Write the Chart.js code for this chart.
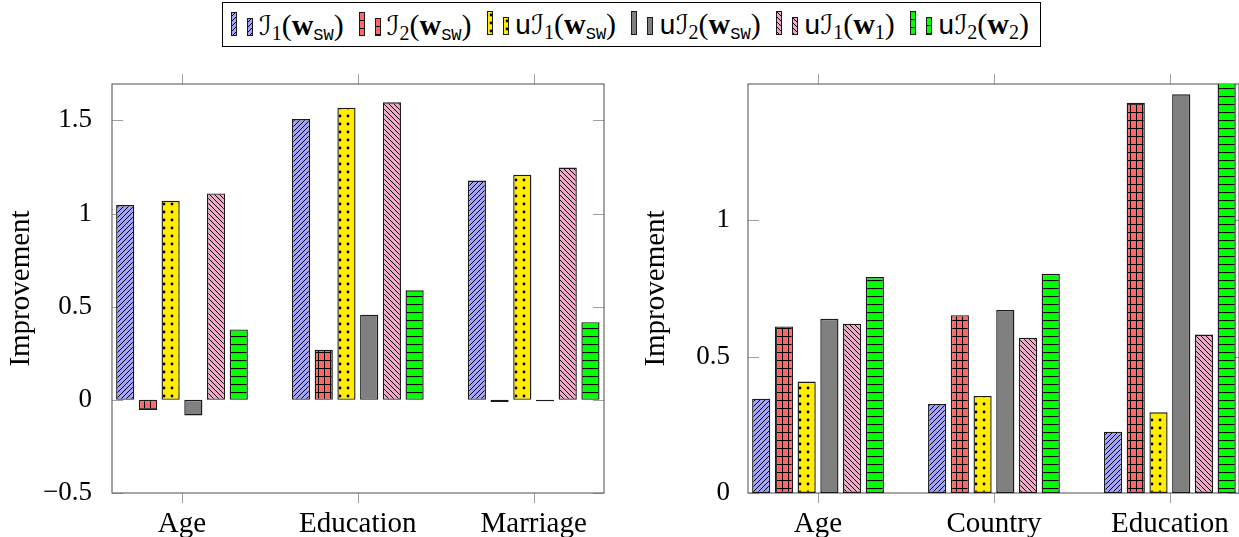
<!DOCTYPE html>
<html lang="en">
<head>
<meta charset="utf-8">
<script src="https://cdn.jsdelivr.net/npm/chart.js@4.4.0/dist/chart.umd.min.js"></script>
<style>
  body { margin: 0; background: #fff; }
  #wrap { position: relative; width: 1239px; height: 537px; overflow: hidden; font-family: "Liberation Serif", serif; }
  .panel { position: absolute; top: 0; height: 537px; }
  #left-panel { left: 0; width: 620px; }
  #right-panel { left: 620px; width: 619px; }
  /* legend box */
  #legend {
    position: absolute; left: 222px; top: 2px; width: 819px; height: 45px;
    box-sizing: border-box; border: 1px solid #000; background: #fff;
    display: flex; align-items: center; padding-left: 8px; white-space: nowrap;
    font-family: "Liberation Serif", serif; font-size: 30px; color: #000;
  }
  .item { display: flex; align-items: baseline; margin-right: 15px; }
  .sw { display: inline-flex; align-items: flex-end; gap: 10px; margin-right: 6px; position: relative; top: 1px; }
  .sw canvas { display: block; }
  .t { font-family: "Liberation Serif", serif; }
  .cal { font-family: "DejaVu Serif", "DejaVu Sans", serif; font-size: 27px; }
  .t b { font-family: "Liberation Serif", serif; }
  .t sub { font-size: 20px; vertical-align: -5px; line-height: 0; }
  .tt { font-family: "Liberation Mono", monospace; }
  .t sub.tt { font-size: 17px; }
  .u { font-family: "Liberation Mono", monospace; font-size: 28px; }
</style>
</head>
<body>
<div id="wrap">
  <div class="panel" id="left-panel"><canvas id="left-chart"></canvas></div>
  <div class="panel" id="right-panel"><canvas id="right-chart"></canvas></div>

  <!-- legend -->
  <div id="legend">
    <div class="item"><span class="sw" data-s="0"></span><span class="t"><span class="cal">ℐ</span><sub>1</sub>(<b>w</b><sub class="tt">SW</sub>)</span></div>
    <div class="item"><span class="sw" data-s="1"></span><span class="t"><span class="cal">ℐ</span><sub>2</sub>(<b>w</b><sub class="tt">SW</sub>)</span></div>
    <div class="item"><span class="sw" data-s="2"></span><span class="t"><span class="u">u</span><span class="cal">ℐ</span><sub>1</sub>(<b>w</b><sub class="tt">SW</sub>)</span></div>
    <div class="item"><span class="sw" data-s="3"></span><span class="t"><span class="u">u</span><span class="cal">ℐ</span><sub>2</sub>(<b>w</b><sub class="tt">SW</sub>)</span></div>
    <div class="item"><span class="sw" data-s="4"></span><span class="t"><span class="u">u</span><span class="cal">ℐ</span><sub>1</sub>(<b>w</b><sub>1</sub>)</span></div>
    <div class="item"><span class="sw" data-s="5"></span><span class="t"><span class="u">u</span><span class="cal">ℐ</span><sub>2</sub>(<b>w</b><sub>2</sub>)</span></div>
  </div>
</div>

<script>
  // categories
  const leftCategories = ['Age', 'Education', 'Marriage'];
  const rightCategories = ['Age', 'Country', 'Education'];

  // left panel values (series order: I1(wSW), I2(wSW), uI1(wSW), uI2(wSW), uI1(w1), uI2(w2))
  const leftI1 = [1.045, 1.507, 1.177];
  const leftI2 = [-0.054, 0.269, -0.012];
  const leftUI1 = [1.068, 1.568, 1.208];
  const leftUI2 = [-0.084, 0.457, -0.008];
  const leftUI1w1 = [1.108, 1.597, 1.247];
  const leftUI2w2 = [0.378, 0.588, 0.417];

  // right panel values
  const rightI1 = [0.346, 0.326, 0.225];
  const rightI2 = [0.611, 0.652, 1.431];
  const rightUI1 = [0.409, 0.356, 0.296];
  const rightUI2 = [0.639, 0.671, 1.462];
  const rightUI1w1 = [0.621, 0.569, 0.581];
  const rightUI2w2 = [0.792, 0.804, 1.55];

  // tick labels
  const leftYTicks = [-0.5, 0, 0.5, 1, 1.5];
  const rightYTicks = [0, 0.5, 1];

  const FONT = 'Liberation Serif';

  // fill patterns (pgfplots style)
  function makePattern(color, kind) {
    let w = 5, h = 5;
    if (kind === 'grid') { w = 6; h = 8; }
    if (kind === 'dots' || kind === 'hlines') { w = 8; h = 8; }
    const c = document.createElement('canvas');
    c.width = w; c.height = h;
    const g = c.getContext('2d');
    g.fillStyle = color;
    g.fillRect(0, 0, w, h);
    g.strokeStyle = '#000';
    g.fillStyle = '#000';
    g.lineWidth = 1;
    g.beginPath();
    if (kind === 'ne') {
      g.moveTo(-1, h + 1); g.lineTo(w + 1, -1);
      g.moveTo(-1, 1); g.lineTo(1, -1);
      g.moveTo(w - 1, h + 1); g.lineTo(w + 1, h - 1);
      g.stroke();
    } else if (kind === 'nw') {
      g.moveTo(-1, -1); g.lineTo(w + 1, h + 1);
      g.moveTo(w - 1, -1); g.lineTo(w + 1, 1);
      g.moveTo(-1, h - 1); g.lineTo(1, h + 1);
      g.stroke();
    } else if (kind === 'grid') {
      g.lineWidth = 1;
      g.moveTo(0.5, 0); g.lineTo(0.5, h);
      g.moveTo(0, 0.5); g.lineTo(w, 0.5);
      g.stroke();
    } else if (kind === 'hlines') {
      g.lineWidth = 1.2;
      g.moveTo(0, 0.5); g.lineTo(w, 0.5);
      g.stroke();
    } else if (kind === 'dots') {
      g.arc(4, 4, 1.4, 0, Math.PI * 2);
      g.fill();
    }
    return g.createPattern(c, 'repeat');
  }

  const seriesFills = [
    makePattern('#a3a3ff', 'ne'),
    makePattern('#ff6666', 'grid'),
    makePattern('#ffec00', 'dots'),
    '#808080',
    makePattern('#f2a9c9', 'nw'),
    makePattern('#00ff00', 'hlines'),
  ];
  const seriesNames = ['I1(wSW)', 'I2(wSW)', 'uI1(wSW)', 'uI2(wSW)', 'uI1(w1)', 'uI2(w2)'];

  function buildDatasets(seriesValues) {
    return seriesValues.map((vals, k) => ({
      label: seriesNames[k],
      data: vals.map((v, i) => ({ x: i, y: v })),
      backgroundColor: seriesFills[k],
      borderColor: '#1a1a1a',
      borderWidth: 1.4,
      borderSkipped: false,
      categoryPercentage: 0.775,
      barPercentage: 0.8,
    }));
  }

  // box, inner y ticks, outer x ticks
  const framePlugin = {
    id: 'frame',
    beforeDatasetsDraw(chart) {
      const { ctx, chartArea: a, scales: { x, y } } = chart;
      const line = (x1, y1, x2, y2) => { ctx.beginPath(); ctx.moveTo(x1, y1); ctx.lineTo(x2, y2); ctx.stroke(); };
      ctx.save();
      ctx.strokeStyle = '#a0a0a0';
      ctx.lineWidth = 1;
      y.ticks.forEach(t => {
        const py = Math.round(y.getPixelForValue(t.value)) + 0.5;
        line(a.left, py, a.left + 11, py);
        line(a.right - 11, py, a.right, py);
      });
      x.ticks.forEach(t => {
        const px = Math.round(x.getPixelForValue(t.value)) + 0.5;
        line(px, a.bottom, px, a.bottom + 10);
        line(px, a.top - 10, px, a.top);
      });
      ctx.strokeStyle = '#6a6a6a';
      ctx.lineWidth = 1.2;
      ctx.strokeRect(a.left, a.top, a.right - a.left, a.bottom - a.top);
      ctx.restore();
    }
  };

  const fmt = v => (v < 0 ? '\u2212' + (-v) : String(v));

  function makeConfig(cats, seriesValues, yTicks, yMin, yMax, xMin, xMax, yWidth, titlePad, labelPad, padRight) {
    return {
      type: 'bar',
      data: { datasets: buildDatasets(seriesValues) },
      options: {
        responsive: true,
        maintainAspectRatio: false,
        animation: false,
        layout: { padding: { top: 84, right: padRight, left: 0, bottom: 0 } },
        plugins: { legend: { display: false }, tooltip: { enabled: false } },
        scales: {
          x: {
            type: 'linear',
            min: xMin,
            max: xMax,
            offset: false,
            grid: { display: false },
            border: { display: false },
            afterBuildTicks: s => { s.ticks = cats.map((c, i) => ({ value: i })); },
            afterFit: s => { s.height = 44; },
            ticks: {
              callback: (v, i) => cats[i],
              font: { family: FONT, size: 29 },
              color: '#000',
              padding: 6,
              maxRotation: 0,
              autoSkip: false,
            },
          },
          y: {
            min: yMin,
            max: yMax,
            grid: { display: false },
            border: { display: false },
            afterBuildTicks: s => { s.ticks = yTicks.map(v => ({ value: v })); },
            afterFit: s => { s.width = yWidth; },
            ticks: {
              callback: v => fmt(v),
              font: { family: FONT, size: 27 },
              color: '#000',
              padding: labelPad,
            },
            title: {
              display: true,
              text: 'Improvement',
              font: { family: FONT, size: 29 },
              color: '#000',
              padding: { top: titlePad, bottom: 0 },
            },
          },
        },
      },
      plugins: [framePlugin],
    };
  }

  new Chart(document.getElementById('left-chart'), makeConfig(
    leftCategories,
    [leftI1, leftI2, leftUI1, leftUI2, leftUI1w1, leftUI2w2],
    leftYTicks, -0.5, 1.695, -0.398, 2.4, 112, 3.6, 12, 16
  ));

  new Chart(document.getElementById('right-chart'), makeConfig(
    rightCategories,
    [rightI1, rightI2, rightUI1, rightUI2, rightUI1w1, rightUI2w2],
    rightYTicks, 0, 1.5, -0.398, 2.393, 128, 18.6, 10, 0
  ));

  // legend swatches: two little bars per entry, filled like the series
  document.querySelectorAll('.sw').forEach(el => {
    const k = +el.dataset.s;
    [24, 18].forEach(h => {
      const c = document.createElement('canvas');
      c.width = 6; c.height = h;
      const g = c.getContext('2d');
      g.fillStyle = seriesFills[k];
      g.fillRect(0, 0, 6, h);
      g.strokeStyle = '#1a1a1a';
      g.lineWidth = 1;
      g.strokeRect(0.5, 0.5, 5, h - 1);
      el.appendChild(c);
    });
  });
</script>
</body>
</html>
